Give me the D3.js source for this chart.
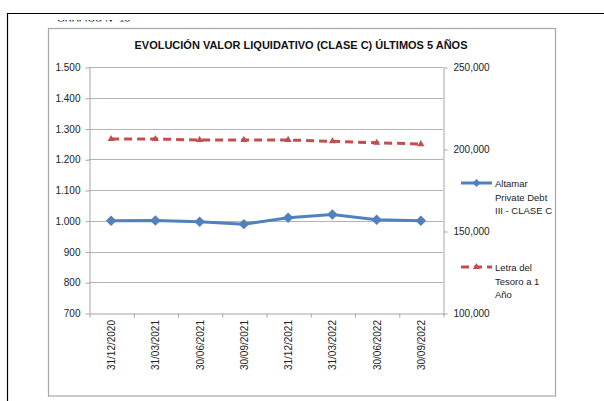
<!DOCTYPE html>
<html>
<head>
<meta charset="utf-8">
<script src="https://cdn.jsdelivr.net/npm/d3@7"></script>
<style>
  body { margin: 0; background: #fff; }
  svg { display: block; font-family: 'Liberation Sans', Arial, sans-serif; }
  .axis path, .axis line { stroke: #a6a6a6; }
  .axis text { fill: #222; font-size: 10px; }
</style>
</head>
<body>
<div id="chart"></div>
<script>
// Data
const dates = ['31/12/2020', '31/03/2021', '30/06/2021', '30/09/2021',
  '31/12/2021', '31/03/2022', '30/06/2022', '30/09/2022']
const fundValues = [1000, 1001, 997, 989, 1010, 1020, 1003, 1000]
const letraValues = [206100, 206100, 205500, 205500, 205500, 204700, 203800, 203000]
const leftTicks = [700, 800, 900, 1000, 1100, 1200, 1300, 1400, 1500]
const leftTickLabels = ['700', '800', '900', '1.000', '1.100', '1.200', '1.300', '1.400', '1.500']
const rightTicks = [100000, 150000, 200000, 250000]
const rightTickLabels = ['100,000', '150,000', '200,000', '250,000']
const fundLegend = ['Altamar', 'Private Debt', 'III - CLASE C']
const letraLegend = ['Letra del', 'Tesoro a 1', 'Año']

const WIDTH = 604
const HEIGHT = 401
const PLOT = { left: 89, right: 443, top: 67, bottom: 313 }
const BLUE = '#4f81bd'
const RED = '#c0504d'

const svg = d3.select('#chart').append('svg')
  .attr('width', WIDTH)
  .attr('height', HEIGHT)

// Outer page border (only top and left visible)
svg.append('path')
  .attr('d', 'M7.5,' + HEIGHT + 'V13.5H' + WIDTH)
  .attr('fill', 'none')
  .attr('stroke', '#000')
  .attr('stroke-width', 1.2)

// Clipped caption above the chart (only its lower edge shows)
svg.append('clipPath').attr('id', 'capclip')
  .append('rect').attr('x', 0).attr('y', 20).attr('width', 200).attr('height', 1.6)
svg.append('text')
  .attr('clip-path', 'url(#capclip)')
  .attr('x', 57).attr('y', 21.5)
  .attr('font-size', 10)
  .attr('fill', '#000')
  .text('GRÁFICO Nº 15')

// Chart frame
svg.append('rect')
  .attr('x', 48.5).attr('y', 28.5)
  .attr('width', 507).attr('height', 367.5)
  .attr('fill', '#fff')
  .attr('stroke', '#a6a6a6')
  .attr('stroke-width', 1.2)

// Title
svg.append('text')
  .attr('x', 301).attr('y', 48.5)
  .attr('text-anchor', 'middle')
  .attr('font-size', 11)
  .attr('font-weight', 'bold')
  .attr('fill', '#111')
  .attr('textLength', 333)
  .attr('lengthAdjust', 'spacingAndGlyphs')
  .text('EVOLUCIÓN VALOR LIQUIDATIVO (CLASE C) ÚLTIMOS 5 AÑOS')

// Scales
const xi = d3.scaleLinear().domain([0, dates.length]).range([PLOT.left, PLOT.right])
const yL = d3.scaleLinear().domain([700, 1500]).range([PLOT.bottom, PLOT.top])
const yR = d3.scaleLinear().domain([100000, 250000]).range([PLOT.bottom, PLOT.top])

// Gridlines
svg.append('g')
  .selectAll('line')
  .data(leftTicks.slice(1))
  .enter()
  .append('line')
  .attr('x1', PLOT.left).attr('x2', PLOT.right)
  .attr('y1', d => Math.round(yL(d)) + 0.5)
  .attr('y2', d => Math.round(yL(d)) + 0.5)
  .attr('stroke', '#b3b3b3')
  .attr('stroke-width', 1)

// Left axis
svg.append('g')
  .attr('class', 'axis')
  .attr('transform', 'translate(' + (PLOT.left + 0.5) + ',0.5)')
  .call(d3.axisLeft(yL).tickValues(leftTicks).tickSize(4).tickSizeOuter(0).tickPadding(5)
    .tickFormat((d, i) => leftTickLabels[i]))

// Right axis
svg.append('g')
  .attr('class', 'axis')
  .attr('transform', 'translate(' + (PLOT.right + 0.5) + ',0.5)')
  .call(d3.axisRight(yR).tickValues(rightTicks).tickSize(4).tickSizeOuter(0).tickPadding(6)
    .tickFormat((d, i) => rightTickLabels[i]))

// Bottom axis: ticks between categories
svg.append('g')
  .attr('class', 'axis')
  .attr('transform', 'translate(0.5,' + (PLOT.bottom + 0.5) + ')')
  .call(d3.axisBottom(xi).tickValues(d3.range(dates.length + 1)).tickSize(4).tickSizeOuter(0)
    .tickFormat(''))

// Category labels (rotated)
svg.append('g')
  .selectAll('text')
  .data(dates)
  .enter()
  .append('text')
  .attr('transform', (d, i) => 'translate(' + (xi(i + 0.5) + 4) + ',' + (PLOT.bottom + 7) + ') rotate(-90)')
  .attr('text-anchor', 'end')
  .attr('font-size', 10)
  .attr('fill', '#222')
  .text(d => d)

// Series lines
const fundLine = d3.line()
  .x((d, i) => xi(i + 0.5))
  .y(d => yL(d))
const letraLine = d3.line()
  .x((d, i) => xi(i + 0.5))
  .y(d => yR(d))

svg.append('path')
  .datum(letraValues)
  .attr('d', letraLine)
  .attr('fill', 'none')
  .attr('stroke', RED)
  .attr('stroke-width', 3)
  .attr('stroke-dasharray', '8,5')

svg.append('g')
  .selectAll('path')
  .data(letraValues)
  .enter()
  .append('path')
  .attr('d', d3.symbol(d3.symbolTriangle, 22))
  .attr('transform', (d, i) => 'translate(' + xi(i + 0.5) + ',' + yR(d) + ')')
  .attr('fill', RED)

svg.append('path')
  .datum(fundValues)
  .attr('d', fundLine)
  .attr('fill', 'none')
  .attr('stroke', BLUE)
  .attr('stroke-width', 3)

svg.append('g')
  .selectAll('path')
  .data(fundValues)
  .enter()
  .append('path')
  .attr('d', d3.symbol(d3.symbolDiamond2, 70))
  .attr('transform', (d, i) => 'translate(' + xi(i + 0.5) + ',' + yL(d) + ')')
  .attr('fill', BLUE)

// Legend
const legend = svg.append('g')
legend.append('line')
  .attr('x1', 461).attr('x2', 492).attr('y1', 183).attr('y2', 183)
  .attr('stroke', BLUE).attr('stroke-width', 3)
legend.append('path')
  .attr('d', d3.symbol(d3.symbolDiamond2, 40))
  .attr('transform', 'translate(476.5,183)')
  .attr('fill', BLUE)
legend.append('text')
  .attr('x', 495).attr('y', 187)
  .attr('font-size', 9.5).attr('fill', '#222')
  .selectAll('tspan')
  .data(fundLegend)
  .enter()
  .append('tspan')
  .attr('x', 495)
  .attr('dy', (d, i) => i === 0 ? 0 : 13.5)
  .text(d => d)

legend.append('line')
  .attr('x1', 461).attr('x2', 492).attr('y1', 267).attr('y2', 267)
  .attr('stroke', RED).attr('stroke-width', 3)
  .attr('stroke-dasharray', '8,5')
legend.append('path')
  .attr('d', d3.symbol(d3.symbolTriangle, 22))
  .attr('transform', 'translate(476.5,267)')
  .attr('fill', RED)
legend.append('text')
  .attr('x', 495).attr('y', 271)
  .attr('font-size', 9.5).attr('fill', '#222')
  .selectAll('tspan')
  .data(letraLegend)
  .enter()
  .append('tspan')
  .attr('x', 495)
  .attr('dy', (d, i) => i === 0 ? 0 : 13.5)
  .text(d => d)
</script>
</body>
</html>
